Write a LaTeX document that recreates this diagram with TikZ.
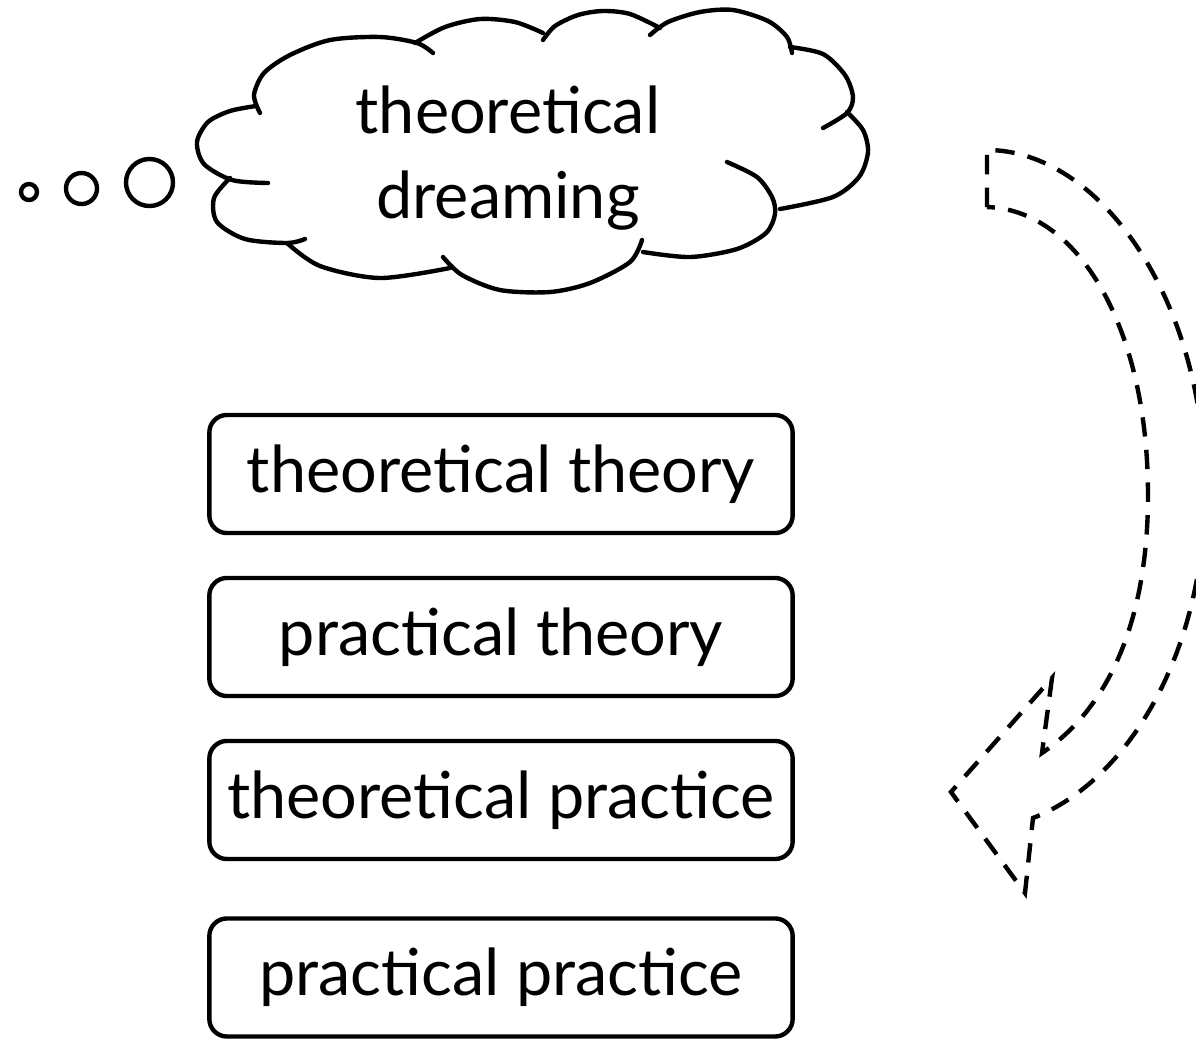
\documentclass[tikz,border=0pt]{standalone}
\usepackage{fontspec}
\setmainfont{Lato}
\usetikzlibrary{positioning}
\definecolor{inkBlack}{HTML}{000000}
\tikzset{
  box/.style={
    draw=inkBlack,
    line width=1.25pt,
    rounded corners=5pt,
    minimum width=5.83cm,
    minimum height=1.18cm,
    inner sep=0pt,
    font=\fontsize{18.4}{24}\selectfont
  },
  puff/.style={draw=inkBlack, line width=1.25pt, line cap=round},
  bubble/.style={circle, draw=inkBlack, line width=1.25pt, inner sep=0pt},
  loopback/.style={draw=inkBlack, line width=1.25pt, dash pattern=on 5.5pt off 3.8pt}
}

\begin{document}
\begin{tikzpicture}[x=0.01cm, y=-0.01cm, node distance=0.405cm]
  \useasboundingbox (0,0) rectangle (1196,1038);
  \clip (0,0) rectangle (1196,1038);

  % thought cloud
  \draw[puff] plot[smooth] coordinates {(268,183) (232,180) (204,164) (197,142) (208,122) (230,111) (256,106)};
  \draw[puff] plot[smooth] coordinates {(230,178) (214,198) (217,222) (245,239) (287,243) (305,239)};
  \draw[puff] plot[smooth] coordinates {(260,113) (254,95) (264,73) (290,55) (330,40) (380,37) (417,43) (433,53)};
  \draw[puff] plot[smooth] coordinates {(415,43) (445,27) (480,19) (515,22) (543,33)};
  \draw[puff] plot[smooth] coordinates {(543,40) (555,26) (578,15) (603,11) (630,14) (660,28)};
  \draw[puff] plot[smooth] coordinates {(650,35) (668,22) (700,12) (733,10) (768,21) (787,37) (792,53)};
  \draw[puff] plot[smooth] coordinates {(790,47) (823,54) (845,75) (853,97) (847,113) (823,128)};
  \draw[puff] plot[smooth] coordinates {(847,112) (863,130) (868,152) (859,177) (833,197) (780,209)};
  \draw[puff] plot[smooth] coordinates {(727,162) (757,177) (772,197) (775,214) (766,233) (737,249) (690,257) (643,252)};
  \draw[puff] plot[smooth] coordinates {(642,240) (630,262) (590,283) (550,292) (500,290) (462,275) (443,257)};
  \draw[puff] plot[smooth] coordinates {(287,243) (320,266) (380,278) (450,268)};
  \node[align=center, font=\fontsize{18.4}{24}\selectfont] (dream) at (508,158) {theoretical\\dreaming};

  % bubbles
  \node[bubble, minimum size=0.16cm] (dot1) at (29,192) {};
  \node[bubble, minimum size=0.31cm] (dot2) at (81.5,188.5) {};
  \node[bubble, minimum size=0.47cm] (dot3) at (149.5,182.5) {};

  % the four boxes
  \node[box] (thth) at (501,474) {theoretical theory};
  \node[box, below=of thth] (prth) {practical theory};
  \node[box, below=of prth] (thpr) {theoretical practice};
  \node[box, below=0.55cm of thpr] (prpr) {practical practice};

  % curved arrow
  \draw[loopback] (987,207) -- (987,150)
    .. controls (1100,150) and (1205,300) .. (1205,490)
    .. controls (1205,650) and (1130,780) .. (1033,818)
    -- (1025,893) -- (951,792) -- (1052,678) -- (1042,753)
    .. controls (1120,700) and (1148,600) .. (1148,495)
    .. controls (1148,330) and (1080,210) .. (987,207) -- cycle;
\end{tikzpicture}
\end{document}
